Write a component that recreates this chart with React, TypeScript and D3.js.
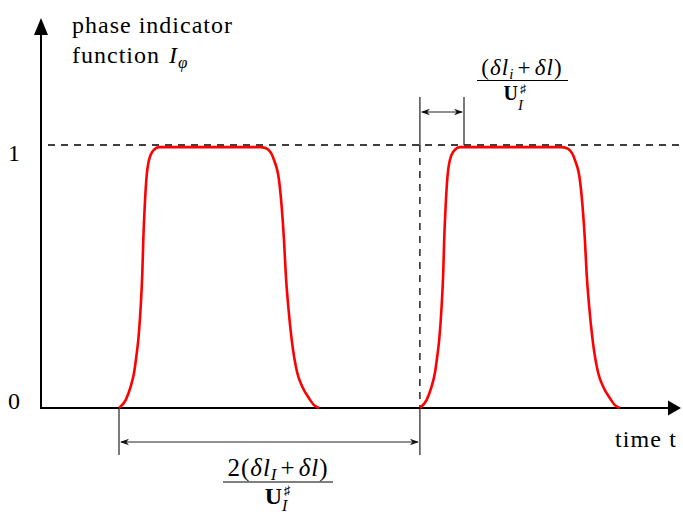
import React from "react";
import * as d3 from "d3";

// Time axis runs in arbitrary units; indicator runs 0..1.
const timeDomain = [0, 21.4];
const indicatorDomain = [0, 1];

// Start time of each pulse of the indicator function.
const pulseStarts = [2.6, 12.63];

// Rising edge: offset from pulse start, indicator value.
const riseOffsets = [0, 0.222, 0.389, 0.5, 0.577, 0.643, 0.723, 0.777, 0.81, 0.857, 0.91, 1.0, 1.167, 1.333];
const riseValues = [0, 0.03, 0.081, 0.133, 0.195, 0.259, 0.385, 0.513, 0.639, 0.765, 0.867, 0.943, 0.982, 0.992];

// Falling edge: offset from pulse start, indicator value.
const fallOffsets = [4.733, 4.943, 5.167, 5.333, 5.423, 5.5, 5.557, 5.643, 5.757, 5.943, 6.11, 6.333, 6.5, 6.667];
const fallValues = [0.992, 0.985, 0.943, 0.867, 0.765, 0.639, 0.513, 0.385, 0.259, 0.133, 0.081, 0.037, 0.011, 0];

// Width of the interface crossing interval (top dimension).
const crossingWidth = 1.47;

// Tick labels on the indicator axis.
const yTicks = [0, 1];

const FONT = '"Liberation Serif", "DejaVu Serif", "Times New Roman", serif';

const W = 683;
const H = 514;

export default function App() {
  const x = d3.scaleLinear().domain(timeDomain).range([41, 683]);
  const y = d3.scaleLinear().domain(indicatorDomain).range([408, 145]);

  const line = d3
    .line<[number, number]>()
    .x((d) => x(d[0]))
    .y((d) => y(d[1]))
    .curve(d3.curveMonotoneX);

  const pulses = pulseStarts.map((s) => {
    const pts: [number, number][] = [
      ...riseOffsets.map((o, i) => [s + o, riseValues[i]] as [number, number]),
      ...fallOffsets.map((o, i) => [s + o, fallValues[i]] as [number, number]),
    ];
    return line(pts) as string;
  });

  const x0 = x(timeDomain[0]);
  const xEnd = x(timeDomain[1]);
  const yZero = y(0);
  const yOne = y(1);

  // Bottom dimension: one full period between pulse starts.
  const bx1 = x(pulseStarts[0]);
  const bx2 = x(pulseStarts[1]);
  const bArrowY = 442;
  const bTickBottom = 455;

  // Top dimension: crossing interval at start of second pulse.
  const tx1 = x(pulseStarts[1]);
  const tx2 = x(pulseStarts[1] + crossingWidth);
  const tArrowY = 112;
  const tTickTop = 97;

  const dimArrow = (tipX: number, yy: number, dir: number) => {
    const L = 9;
    const hw = 3.2;
    const bx = tipX - dir * L;
    const ix = tipX - dir * L * 0.7;
    return `M${tipX},${yy} L${bx},${yy - hw} L${ix},${yy} L${bx},${yy + hw} Z`;
  };

  const bCenter = 278;
  const tCenter = 522;

  return (
    <svg
      width={W}
      height={H}
      style={{ position: "absolute", left: 0, top: 0, background: "#fff", fontFamily: FONT }}
    >
      {/* level-one reference line */}
      <line x1={48} x2={xEnd} y1={yOne} y2={yOne} stroke="#000" strokeWidth={1.3} strokeDasharray="7 6" />

      {/* vertical marker at second pulse start */}
      <line x1={tx1} x2={tx1} y1={yOne} y2={yZero} stroke="#000" strokeWidth={1.3} strokeDasharray="7 6" />
      <line x1={tx1} x2={tx1} y1={tTickTop} y2={yOne} stroke="#222" strokeWidth={1.2} />
      <line x1={tx2} x2={tx2} y1={tTickTop} y2={yOne} stroke="#222" strokeWidth={1.2} />
      <line x1={tx1 + 2} x2={tx2 - 2} y1={tArrowY} y2={tArrowY} stroke="#222" strokeWidth={1} />
      <path d={dimArrow(tx1 + 1, tArrowY, -1)} fill="#111" />
      <path d={dimArrow(tx2 - 1, tArrowY, 1)} fill="#111" />

      {/* bottom dimension */}
      <line x1={bx1} x2={bx1} y1={yZero} y2={bTickBottom} stroke="#222" strokeWidth={1.2} />
      <line x1={bx2} x2={bx2} y1={yZero} y2={bTickBottom} stroke="#222" strokeWidth={1.2} />
      <line x1={bx1 + 2} x2={bx2 - 2} y1={bArrowY} y2={bArrowY} stroke="#222" strokeWidth={1} />
      <path d={dimArrow(bx1 + 1, bArrowY, -1)} fill="#111" />
      <path d={dimArrow(bx2 - 1, bArrowY, 1)} fill="#111" />

      {/* axes */}
      <line x1={x0} x2={x0} y1={yZero + 1} y2={30} stroke="#000" strokeWidth={2} />
      <path d={`M${x0},18 L${x0 - 7},35 L${x0 + 7},35 Z`} fill="#000" />
      <line x1={x0 - 1} x2={670} y1={yZero} y2={yZero} stroke="#000" strokeWidth={2} />
      <path d={`M681,${yZero} L668,${yZero - 7.5} L668,${yZero + 7.5} Z`} fill="#000" />

      {/* indicator pulses */}
      {pulses.map((d, i) => (
        <path key={i} d={d} fill="none" stroke="#ff0000" strokeWidth={2.6} strokeLinejoin="round" />
      ))}

      {/* tick labels */}
      {yTicks.map((t) => (
        <text key={t} x={8} y={t === 1 ? 161 : 409} fontSize={24} fill="#000">
          {t}
        </text>
      ))}

      {/* axis titles */}
      <text x={72} y={33} fontSize={24} letterSpacing={1} fill="#000">
        phase indicator
      </text>
      <text x={72} y={63} fontSize={24} letterSpacing={1} fill="#000">
        function <tspan fontStyle="italic" dx={2}>I</tspan>
        <tspan fontStyle="italic" fontSize={17} dy={5}>φ</tspan>
      </text>
      <text x={615} y={447} fontSize={24} letterSpacing={1.1} fill="#000">
        time t
      </text>

      {/* top fraction */}
      <text x={tCenter} y={75} fontSize={23} textAnchor="middle" letterSpacing={1.1} fill="#000">
        (<tspan fontStyle="italic">δl</tspan>
        <tspan fontStyle="italic" fontSize={15} dy={4}>i</tspan>
        <tspan dy={-4} dx={3}>+</tspan>
        <tspan fontStyle="italic" dx={3}>δl</tspan>)
      </text>
      <line x1={477} x2={568} y1={80.5} y2={80.5} stroke="#000" strokeWidth={1.1} />
      <text x={518} y={99.5} fontSize={20} fontWeight="bold" textAnchor="end" fill="#000">
        U
      </text>
      <text x={520} y={93} fontSize={12} fill="#000">
        ♯
      </text>
      <text x={518} y={110} fontSize={15} fontStyle="italic" fill="#000">
        I
      </text>

      {/* bottom fraction */}
      <text x={bCenter} y={476} fontSize={25} textAnchor="middle" letterSpacing={1} fill="#000">
        2(<tspan fontStyle="italic">δl</tspan>
        <tspan fontStyle="italic" fontSize={17} dy={4}>I</tspan>
        <tspan dy={-4} dx={3}>+</tspan>
        <tspan fontStyle="italic" dx={3}>δl</tspan>)
      </text>
      <line x1={223} x2={333} y1={482} y2={482} stroke="#000" strokeWidth={1.1} />
      <text x={282} y={504} fontSize={24} fontWeight="bold" textAnchor="end" fill="#000">
        U
      </text>
      <text x={284} y={495} fontSize={13} fill="#000">
        ♯
      </text>
      <text x={282} y={511} fontSize={16} fontStyle="italic" fill="#000">
        I
      </text>
    </svg>
  );
}
